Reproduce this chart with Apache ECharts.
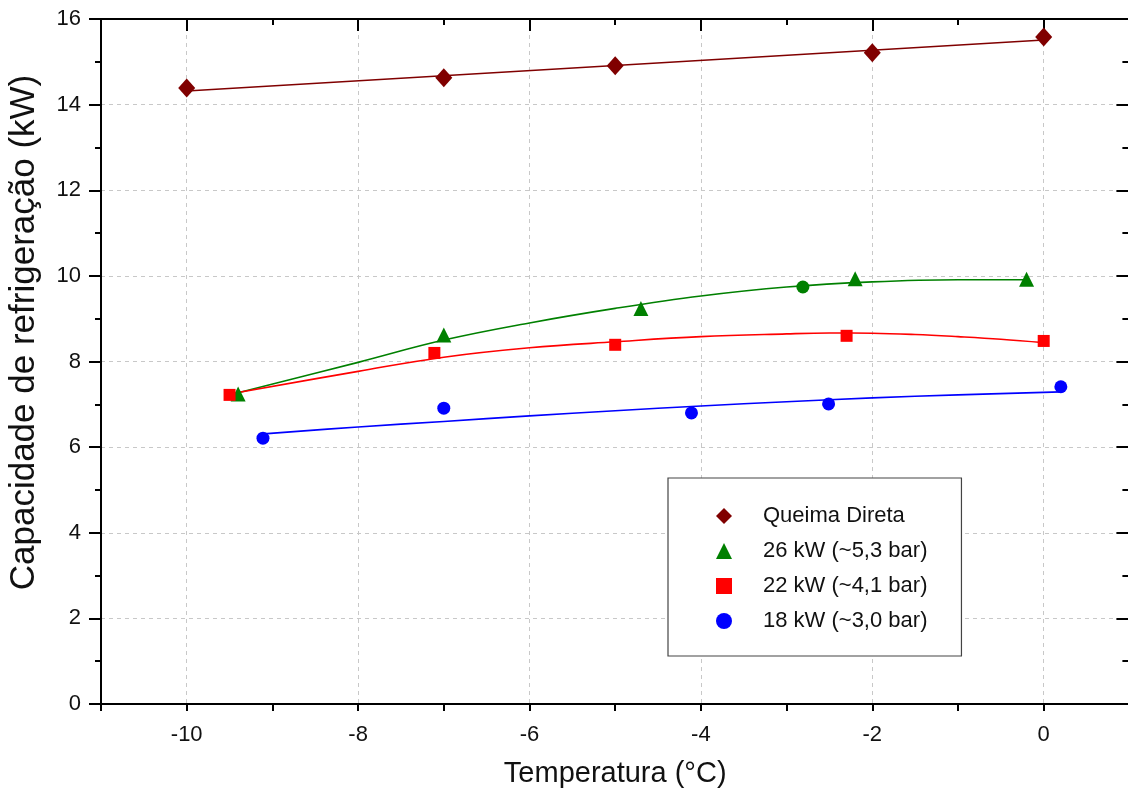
<!DOCTYPE html>
<html><head><meta charset="utf-8">
<script src="https://cdn.jsdelivr.net/npm/echarts@6/dist/echarts.min.js"></script>
<style>html,body{margin:0;padding:0;background:#fff}#c{width:1128px;height:796px}</style>
</head><body><div id="c"></div><script>
// ---- data ----
const xTickLabels = [-10, -8, -6, -4, -2, 0];
const yTickLabels = [0, 2, 4, 6, 8, 10, 12, 14, 16];

const queimaX = [-10, -7, -5, -2, 0];
const queimaY = [14.39, 14.63, 14.91, 15.21, 15.58];
const queimaFitX = [-10, 0];
const queimaFitY = [14.32, 15.51];

const kw26X = [-9.4, -7.0, -4.7, -2.2, -0.2];
const kw26Y = [7.24, 8.62, 9.24, 9.93, 9.92];
const kw26ExtraX = [-2.81];
const kw26ExtraY = [9.74];
const kw26FitX = [-9.4, -8, -7, -6, -5, -4, -3, -2, -1, -0.2];
const kw26FitY = [7.27, 7.98, 8.50, 8.90, 9.24, 9.53, 9.74, 9.86, 9.91, 9.91];

const kw22X = [-9.5, -7.11, -5.0, -2.3, 0];
const kw22Y = [7.22, 8.20, 8.39, 8.60, 8.48];
const kw22FitX = [-9.5, -8, -7, -6, -5, -4, -3, -2.5, -2, -1.5, -1, -0.5, 0];
const kw22FitY = [7.24, 7.77, 8.10, 8.32, 8.46, 8.58, 8.645, 8.665, 8.66, 8.63, 8.58, 8.52, 8.44];

const kw18X = [-9.11, -7.0, -4.11, -2.51, 0.2];
const kw18Y = [6.21, 6.91, 6.80, 7.01, 7.41];
const kw18FitX = [-9.1, -8, -7, -6, -5, -4, -3, -2, -1, 0.2];
const kw18FitY = [6.31, 6.47, 6.60, 6.73, 6.85, 6.96, 7.06, 7.15, 7.22, 7.29];

const names = ['Queima Direta', '26 kW (~5,3 bar)', '22 kW (~4,1 bar)', '18 kW (~3,0 bar)'];
// --------------------------------------

const zip = (xs, ys) => xs.map((x, i) => [x, ys[i]]);
const FONT = '"Liberation Sans", Arial, sans-serif';
const C_Q = '#800000', C_G = '#008000', C_R = '#ff0000', C_B = '#0000ff';

const chart = echarts.init(document.getElementById('c'), null, {renderer: 'canvas'});
// plot spans x = -11 .. 1 ; one unit = 85.7 px
const UNIT = 85.7;
const grid0 = {left: 101, top: 19, right: -1.4, bottom: 92, outerBoundsMode: 'none', containLabel: false};
// second grid covers -10 .. 0 exactly, used for the dashed vertical grid lines and long top ticks
const grid1 = {left: 101 + UNIT, top: 19, right: -1.4 + UNIT, bottom: 92, outerBoundsMode: 'none', containLabel: false};

function fit(name, xs, ys, color) {
  return {name: name, type: 'line', xAxisIndex: 0, yAxisIndex: 0, data: zip(xs, ys),
    smooth: 0.4, showSymbol: false, symbol: 'none', silent: true, z: 2,
    lineStyle: {color: color, width: 1.6}};
}
function pts(name, xs, ys, color, symbol, size) {
  return {name: name, type: 'scatter', xAxisIndex: 0, yAxisIndex: 0, data: zip(xs, ys),
    symbol: symbol, symbolSize: size, z: 5, itemStyle: {color: color, opacity: 1}};
}

const option = {
  animation: false,
  backgroundColor: '#fff',
  textStyle: {fontFamily: FONT},
  grid: [grid0, grid1],
  xAxis: [
    { gridIndex: 0, type: 'value', position: 'bottom', min: -11, max: 1, interval: 1,
      axisLine: {show: true, onZero: false, lineStyle: {color: '#000', width: 2}},
      axisTick: {show: true, inside: false, length: 7, lineStyle: {color: '#000', width: 2}},
      axisLabel: {show: true, margin: 20, fontSize: 22, color: '#111', fontFamily: FONT,
        formatter: v => (xTickLabels.indexOf(v) >= 0 ? String(v) : '')},
      splitLine: {show: false},
      name: 'Temperatura (°C)', nameLocation: 'middle', nameGap: 55,
      nameTextStyle: {fontSize: 29, color: '#111', fontFamily: FONT}
    },
    { gridIndex: 0, type: 'value', position: 'top', min: -11, max: 1, interval: 1,
      axisLine: {show: true, onZero: false, lineStyle: {color: '#000', width: 2}},
      axisTick: {show: true, inside: true, length: 6, lineStyle: {color: '#000', width: 2}},
      axisLabel: {show: false}, splitLine: {show: false}
    },
    { gridIndex: 1, type: 'value', position: 'top', min: -10, max: 0, interval: 2,
      axisLine: {show: false, onZero: false},
      axisTick: {show: true, inside: true, length: 12, lineStyle: {color: '#000', width: 2}},
      axisLabel: {show: false},
      splitLine: {show: true, lineStyle: {color: '#c8c8c8', width: 1, type: [4, 4]}}
    }
  ],
  yAxis: [
    { gridIndex: 0, type: 'value', position: 'left', min: 0, max: 16, interval: 2,
      axisLine: {show: true, onZero: false, lineStyle: {color: '#000', width: 2}},
      axisTick: {show: true, inside: false, length: 12, lineStyle: {color: '#000', width: 2}},
      minorTick: {show: true, splitNumber: 2, length: 6, lineStyle: {color: '#000', width: 2}},
      axisLabel: {show: true, margin: 20, fontSize: 22, color: '#111', fontFamily: FONT,
        formatter: v => (yTickLabels.indexOf(v) >= 0 ? String(v) : '')},
      splitLine: {show: true, lineStyle: {color: '#c8c8c8', width: 1, type: [4, 4]}},
      name: 'Capacidade de refrigeração (kW)', nameLocation: 'middle', nameGap: 59, nameRotate: 90,
      nameTextStyle: {fontSize: 35, color: '#111', fontFamily: FONT, padding: [0, 0, 0, 58]}
    },
    { gridIndex: 0, type: 'value', position: 'right', min: 0, max: 16, interval: 2,
      axisLine: {show: true, onZero: false, lineStyle: {color: '#000', width: 2}},
      axisTick: {show: true, inside: true, length: 13, lineStyle: {color: '#000', width: 2}},
      minorTick: {show: true, splitNumber: 2, length: 7, lineStyle: {color: '#000', width: 2}},
      axisLabel: {show: false}, splitLine: {show: false}
    },
    { gridIndex: 1, type: 'value', min: 0, max: 16, show: false }
  ],
  legend: {
    orient: 'vertical', left: 668, top: 478,
    padding: [27, 34, 24, 48], itemWidth: 16, itemHeight: 16, itemGap: 13,
    backgroundColor: '#fff', borderColor: '#444', borderWidth: 1.2, borderRadius: 0,
    textStyle: {fontSize: 22, color: '#111', fontFamily: FONT, lineHeight: 22, padding: [0, 0, 0, 26]},
    data: names
  },
  series: [
    fit('fitQ', queimaFitX, queimaFitY, C_Q),
    fit('fit26', kw26FitX, kw26FitY, C_G),
    fit('fit22', kw22FitX, kw22FitY, C_R),
    fit('fit18', kw18FitX, kw18FitY, C_B),
    pts(names[0], queimaX, queimaY, C_Q, 'diamond', [17, 19]),
    pts(names[1], kw26X, kw26Y, C_G, 'triangle', 15),
    pts('26extra', kw26ExtraX, kw26ExtraY, C_G, 'circle', 13),
    pts(names[2], kw22X, kw22Y, C_R, 'rect', 12),
    pts(names[3], kw18X, kw18Y, C_B, 'circle', 13)
  ]
};
chart.setOption(option);
</script></body></html>
